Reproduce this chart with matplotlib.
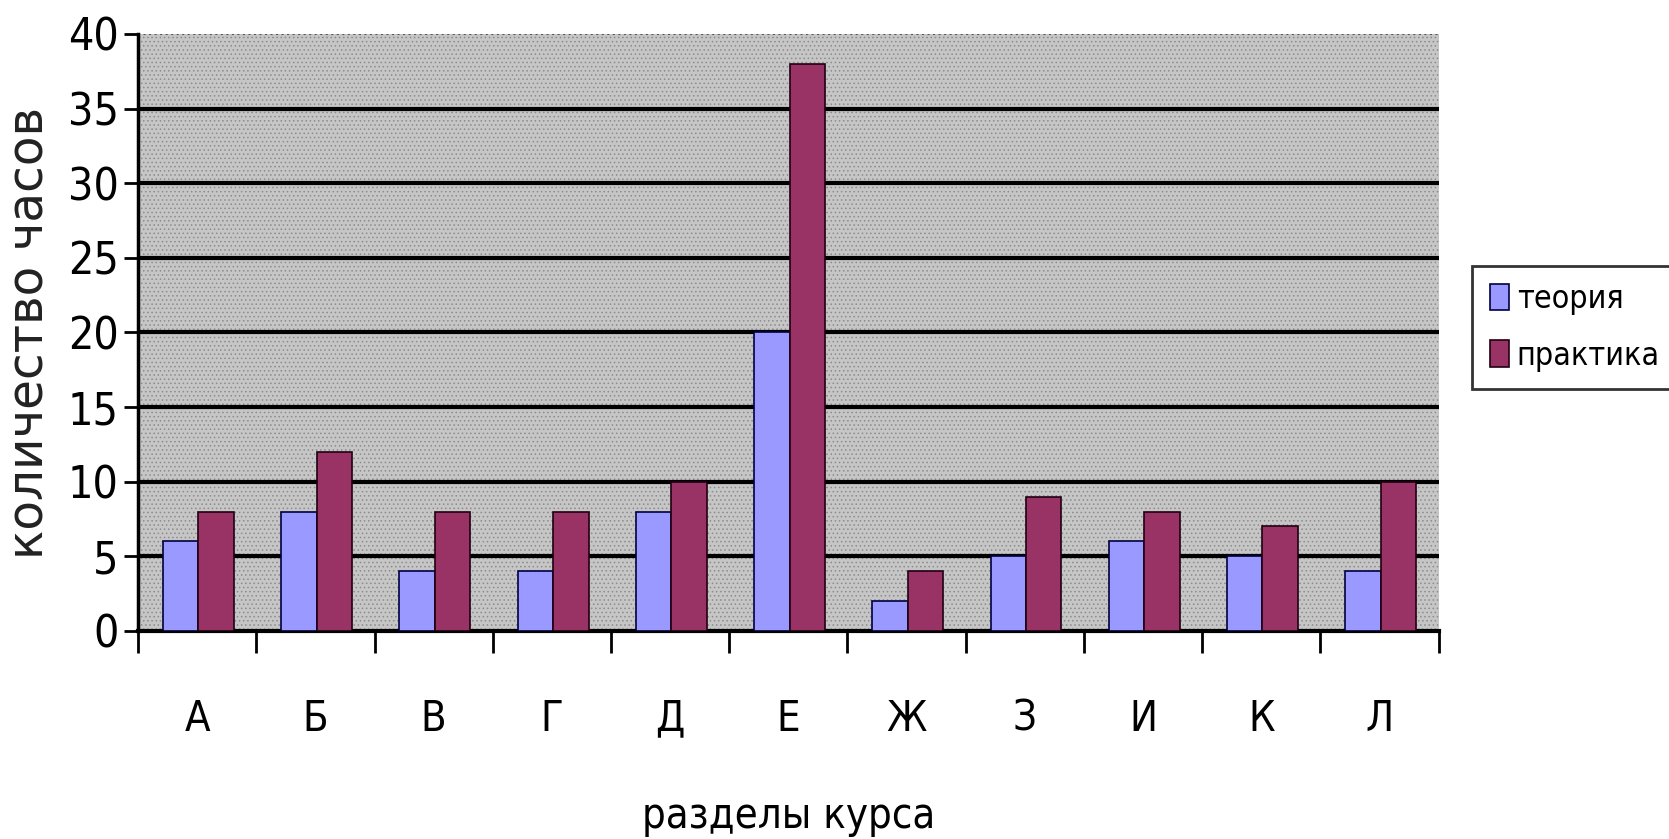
import numpy as np
import matplotlib.pyplot as plt

# data
sections = ["А", "Б", "В", "Г", "Д", "Е", "Ж", "З", "И", "К", "Л"]
theory = [6, 8, 4, 4, 8, 20, 2, 5, 6, 5, 4]
practice = [8, 12, 8, 8, 10, 38, 4, 9, 8, 7, 10]
y_ticks = [0, 5, 10, 15, 20, 25, 30, 35, 40]

plt.rcParams['font.family'] = ['DejaVu Sans']
plt.rcParams['font.stretch'] = 'condensed'
plt.rcParams['hatch.linewidth'] = 0.6

fig = plt.figure(figsize=(16.69, 8.39), dpi=100)
ax = fig.add_axes([0.0827, 0.248, 0.7793, 0.7115])

ax.set_facecolor('#c6c6c6')
# dotted texture of the old excel plot area
ax.add_patch(plt.Rectangle((0, 0), 1, 1, transform=ax.transAxes,
                           facecolor='none', edgecolor='#8c8c8c',
                           hatch='....', linewidth=0, zorder=0.5))

x = np.arange(len(sections))
w = 0.3
ax.bar(x - 0.14, theory, w, color='#9999ff', edgecolor='#000040',
       linewidth=1.2, label='теория', zorder=3)
ax.bar(x + 0.16, practice, w, color='#993366', edgecolor='#200010',
       linewidth=1.2, label='практика', zorder=3)

ax.set_xlim(-0.5, len(sections) - 0.5)
ax.set_ylim(0, 40)
ax.set_yticks(y_ticks)
for v in y_ticks[1:-1]:
    ax.axhline(v, color='black', linewidth=3, zorder=2)
ax.axhline(40, color='#555555', linewidth=1.5, linestyle=':', zorder=2)

# category labels in the middle, ticks on the boundaries
ax.set_xticks(x)
ax.set_xticklabels(sections, fontsize=30)
ax.set_xticks(np.arange(-0.5, len(sections)), minor=True)
ax.tick_params(axis='x', which='major', length=0, pad=48)
ax.tick_params(axis='x', which='minor', length=16, width=2, direction='out')
ax.tick_params(axis='y', length=10, width=2, labelsize=32, pad=4)

for s in ['top', 'right']:
    ax.spines[s].set_visible(False)
ax.spines['left'].set_linewidth(2.5)
ax.spines['bottom'].set_linewidth(3)

ax.set_ylabel('количество часов', fontsize=35, stretch='normal',
              labelpad=10, color='#222222')
ax.set_xlabel('разделы курса', fontsize=30, labelpad=40)

leg = fig.legend(loc='upper left', bbox_to_anchor=(0.882, 0.683),
                 fontsize=23, frameon=True, fancybox=False, borderaxespad=0,
                 handlelength=0.6, handleheight=0.9, handletextpad=0.25,
                 labelspacing=0.8, borderpad=0.55)
leg.get_frame().set_edgecolor('black')
leg.get_frame().set_linewidth(2)

fig.savefig('out.png', dpi=100)
